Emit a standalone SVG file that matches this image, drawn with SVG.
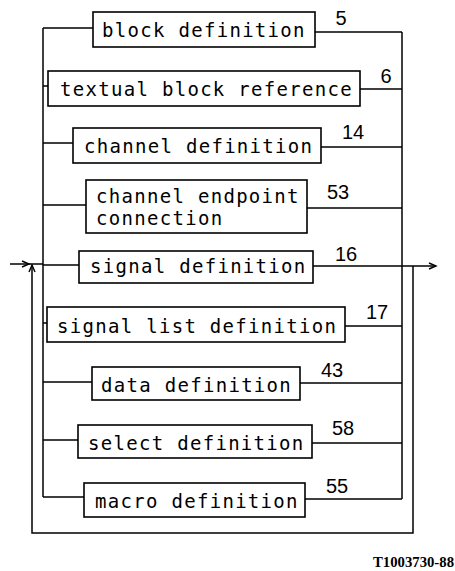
<svg xmlns="http://www.w3.org/2000/svg" width="455" height="571" viewBox="0 0 455 571">
<defs>
<style>
.box{fill:#fff;stroke:#000;stroke-width:1.6}
.ln{fill:none;stroke:#000;stroke-width:1.5}
.lbl{font-family:"DejaVu Sans Mono","Liberation Mono",monospace;font-size:19px;letter-spacing:1.3px;fill:#000}
.num{font-family:"Liberation Sans",Arial,sans-serif;font-size:20px;fill:#000;text-anchor:middle}
.ref{font-family:"Liberation Serif","Times New Roman",serif;font-size:14px;font-weight:bold;fill:#000}
</style>
<marker id="arr" markerWidth="10" markerHeight="10" refX="8" refY="4" orient="auto" markerUnits="userSpaceOnUse">
<path d="M1,1 L8,4 L1,7" fill="none" stroke="#000" stroke-width="1.4"/>
</marker>
</defs>
<rect width="455" height="571" fill="#fff"/>
<g id="connectors">
<line class="ln" x1="43" y1="28" x2="43" y2="497"/>
<line class="ln" x1="402" y1="32" x2="402" y2="499"/>
<path class="ln" d="M43,28 H93 M315,32 H402"/>
<path class="ln" d="M43,86 H48 M360,89 H402"/>
<path class="ln" d="M43,143 H73 M321,147 H402"/>
<path class="ln" d="M43,205 H86 M307,208 H402"/>
<path class="ln" d="M43,265 H79 M313,266 H402"/>
<path class="ln" d="M43,323 H47 M345,326 H402"/>
<path class="ln" d="M43,382 H92 M300,383 H402"/>
<path class="ln" d="M43,440 H78 M312,443 H402"/>
<path class="ln" d="M43,497 H84 M305,499 H402"/>
<line class="ln" x1="10" y1="264" x2="29" y2="264" marker-end="url(#arr)"/>
<line class="ln" x1="29" y1="264" x2="43" y2="264"/>
<path class="ln" d="M413,266 V533 H32 V265" marker-end="url(#arr)"/>
<line class="ln" x1="402" y1="266" x2="436" y2="266" marker-end="url(#arr)"/>
</g>
<g id="n5"><rect class="box" x="93" y="12" width="222" height="35"/><text class="lbl" x="102" y="37">block definition</text><text class="num" x="341" y="25">5</text></g>
<g id="n6"><rect class="box" x="48" y="71" width="312" height="35"/><text class="lbl" x="60" y="96">textual block reference</text><text class="num" x="386" y="83">6</text></g>
<g id="n14"><rect class="box" x="73" y="128" width="248" height="35"/><text class="lbl" x="84" y="153">channel definition</text><text class="num" x="353" y="139">14</text></g>
<g id="n53"><rect class="box" x="86" y="180" width="221" height="53"/><text class="lbl" x="96" y="203">channel endpoint</text><text class="lbl" x="96" y="225">connection</text><text class="num" x="338" y="199">53</text></g>
<g id="n16"><rect class="box" x="79" y="251" width="234" height="32"/><text class="lbl" x="90" y="273">signal definition</text><text class="num" x="346" y="261">16</text></g>
<g id="n17"><rect class="box" x="47" y="307" width="298" height="35"/><text class="lbl" x="57" y="333">signal list definition</text><text class="num" x="377" y="319">17</text></g>
<g id="n43"><rect class="box" x="92" y="367" width="208" height="33"/><text class="lbl" x="101" y="392">data definition</text><text class="num" x="332" y="377">43</text></g>
<g id="n58"><rect class="box" x="78" y="425" width="234" height="33"/><text class="lbl" x="88" y="450">select definition</text><text class="num" x="343" y="435">58</text></g>
<g id="n55"><rect class="box" x="84" y="483" width="221" height="34"/><text class="lbl" x="95" y="508">macro definition</text><text class="num" x="337" y="493">55</text></g>
<text class="ref" x="373" y="567" textLength="81" lengthAdjust="spacingAndGlyphs">T1003730-88</text>
</svg>
